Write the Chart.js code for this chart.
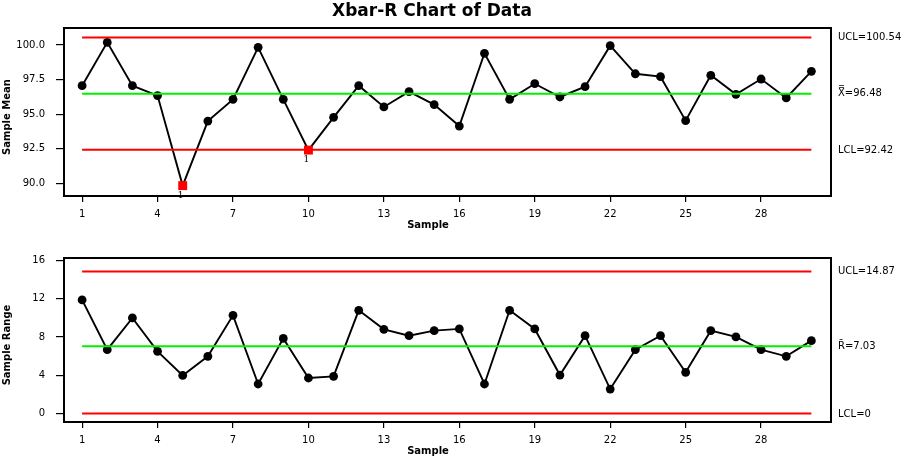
<!DOCTYPE html>
<html>
<head>
<meta charset="utf-8">
<script src="https://cdn.jsdelivr.net/npm/chart.js@4.4.1/dist/chart.umd.min.js"></script>
<style>
body { margin: 0; background: #fff; }
#wrap { position: relative; width: 904px; height: 458px; }
canvas { position: absolute; left: 0; }
</style>
</head>
<body>
<div id="wrap">
  <canvas id="meanChart" width="904" height="230" style="top:0"></canvas>
  <canvas id="rangeChart" width="904" height="228" style="top:230px"></canvas>
</div>
<script>
// data
const samples = [1,2,3,4,5,6,7,8,9,10,11,12,13,14,15,16,17,18,19,20,21,22,23,24,25,26,27,28,29,30];
const meanValues = [97.06,100.19,97.06,96.34,89.83,94.50,96.07,99.83,96.07,92.40,
                    94.77,97.06,95.52,96.63,95.69,94.14,99.40,96.07,97.20,96.24,
                    96.99,99.95,97.92,97.71,94.53,97.81,96.43,97.54,96.17,98.10];
const rangeValues = [11.89,6.68,10.00,6.50,3.98,5.98,10.27,3.08,7.86,3.71,
                     3.88,10.80,8.81,8.14,8.67,8.85,3.08,10.80,8.85,4.02,
                     8.14,2.55,6.68,8.14,4.30,8.67,8.01,6.68,5.98,7.62];
const meanLimits = [100.54, 96.48, 92.42];   // UCL, center, LCL
const rangeLimits = [14.87, 7.03, 0];
const meanFlagged = [5, 10];                 // test 1 failures
const rangeFlagged = [];
const sampleTicks = [1,4,7,10,13,16,19,22,25,28];
const meanTicks = [90, 92.5, 95, 97.5, 100];
const rangeTicks = [0, 4, 8, 12, 16];

const FONT = 'DejaVu Sans';

const decor = {
  id: 'decor',
  beforeDatasetsDraw(chart, args, o) {
    const a = chart.chartArea, ctx = chart.ctx;
    ctx.save();
    ctx.strokeStyle = '#000';
    ctx.lineWidth = 2;
    ctx.strokeRect(a.left, a.top, a.right - a.left, a.bottom - a.top);
    ctx.restore();
  },
  afterDraw(chart, args, o) {
    const a = chart.chartArea, ctx = chart.ctx;
    const xs = chart.scales.x, ys = chart.scales.y;
    ctx.save();
    ctx.fillStyle = '#000';
    if (o.title) {
      ctx.font = 'bold 17px ' + FONT;
      ctx.textAlign = 'center';
      ctx.textBaseline = 'middle';
      ctx.fillText(o.title, 432, 12);
    }
    // limit labels on the right
    ctx.font = '10px ' + FONT;
    ctx.textAlign = 'left';
    ctx.textBaseline = 'middle';
    o.limitLabels.forEach((t, i) => {
      ctx.fillText(t, a.right + 7, ys.getPixelForValue(o.limits[i]) + (i == 2 ? 1 : 0));
    });
    // axis titles
    ctx.font = 'bold 10px ' + FONT;
    ctx.textAlign = 'center';
    ctx.fillText('Sample', 428, a.bottom + 29);
    ctx.save();
    ctx.translate(7, (a.top + a.bottom) / 2 + 5);
    ctx.rotate(-Math.PI / 2);
    ctx.fillText(o.yTitle, 0, 0);
    ctx.restore();
    // flag markers
    ctx.font = '9px DejaVu Serif';
    ctx.textBaseline = 'middle';
    o.flagged.forEach(s => {
      ctx.fillText('1', xs.getPixelForValue(s) - 2, ys.getPixelForValue(o.values[s - 1]) + 10);
    });
    ctx.restore();
  }
};

function limitSet(y, color) {
  return {
    data: [{x: samples[0], y: y}, {x: samples[samples.length - 1], y: y}],
    borderColor: color, borderWidth: 2, pointRadius: 0, fill: false
  };
}

function makeChart(id, values, limits, limitLabels, flagged, yTicks, yMin, yMax, yTitle, decimals, title, xHeight) {
  const pts = samples.map((s, i) => ({x: s, y: values[i]}));
  const isFlag = samples.map(s => flagged.includes(s));
  return new Chart(document.getElementById(id), {
    type: 'line',
    data: {
      datasets: [
        limitSet(limits[0], '#ff0000'),
        limitSet(limits[2], '#ff0000'),
        limitSet(limits[1], '#00f000'),
        {
          data: pts,
          borderColor: '#000',
          borderWidth: 1.9,
          pointStyle: isFlag.map(f => f ? 'rect' : 'circle'),
          pointRadius: isFlag.map(f => f ? 6.3 : 4.4),
          pointBackgroundColor: isFlag.map(f => f ? '#ff0000' : '#000'),
          pointBorderColor: isFlag.map(f => f ? '#ff0000' : '#000'),
          pointBorderWidth: 0,
          tension: 0
        }
      ]
    },
    options: {
      responsive: false,
      animation: false,
      devicePixelRatio: 1,
      layout: {padding: {left: 0, right: 73, top: 28, bottom: 0}},
      plugins: {
        legend: {display: false},
        tooltip: {enabled: false},
        decor: {title: title, limits: limits, limitLabels: limitLabels, flagged: flagged, values: values, yTitle: yTitle}
      },
      scales: {
        x: {
          type: 'linear', min: 0.28, max: 30.78,
          afterBuildTicks: sc => { sc.ticks = sampleTicks.map(v => ({value: v})); },
          afterFit: sc => { sc.height = xHeight; },
          ticks: {color: '#000', font: {family: FONT, size: 10}, padding: 6, maxRotation: 0},
          grid: {drawOnChartArea: false, color: '#000', tickLength: 6, lineWidth: 1.2},
          border: {display: false}
        },
        y: {
          min: yMin, max: yMax,
          afterBuildTicks: sc => { sc.ticks = yTicks.map(v => ({value: v})); },
          afterFit: sc => { sc.width = 64; },
          ticks: {color: '#000', font: {family: FONT, size: 10}, padding: 11,
                  callback: v => Number(v).toFixed(decimals)},
          grid: {drawOnChartArea: false, color: '#000', tickLength: 8, lineWidth: 1.2},
          border: {display: false}
        }
      }
    },
    plugins: [decor]
  });
}

makeChart('meanChart', meanValues, meanLimits,
  ['UCL=' + meanLimits[0], 'X\u033F=' + meanLimits[1], 'LCL=' + meanLimits[2]],
  meanFlagged, meanTicks, 89.08, 101.23, 'Sample Mean', 1, 'Xbar-R Chart of Data', 34);
makeChart('rangeChart', rangeValues, rangeLimits,
  ['UCL=' + rangeLimits[0], 'R\u0304=' + rangeLimits[1], 'LCL=' + rangeLimits[2]],
  rangeFlagged, rangeTicks, -0.9, 16.28, 'Sample Range', 0, null, 36);
</script>
</body>
</html>
